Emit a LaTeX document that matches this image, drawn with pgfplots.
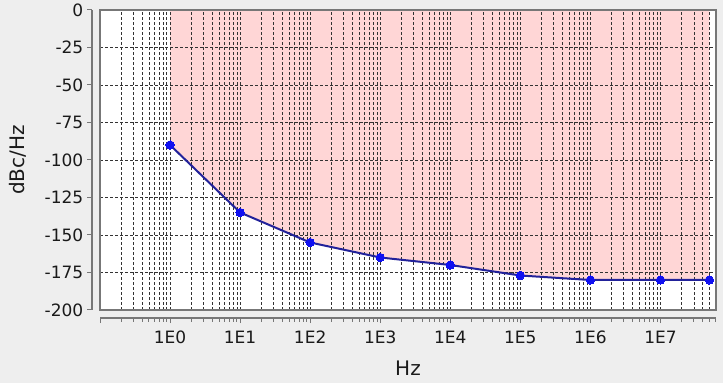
\documentclass[border=0pt]{standalone}
\usepackage{fontspec}
\setmainfont{DejaVu Sans}
\usepackage{pgfplots}
\pgfplotsset{compat=1.18}
\definecolor{bg}{HTML}{EEEEEE}
\definecolor{shade}{HTML}{FFD6D6}
\definecolor{framec}{HTML}{777777}
\definecolor{lineblue}{HTML}{22229A}
\definecolor{markblue}{HTML}{1010F0}
\definecolor{txt}{HTML}{1A1A1A}
\begin{document}
\begin{tikzpicture}
\fill[bg] (0pt,0pt) rectangle (723pt,383pt);
\useasboundingbox (0pt,0pt) rectangle (723pt,383pt);

% background + shaded region
\begin{axis}[at={(100pt,73pt)}, anchor=south west,
  scale only axis, width=616pt, height=300pt,
  xmode=log, log basis x=10, xmin=0.1, xmax=6.2e7,
  ymin=-200, ymax=0,
  axis background/.style={fill=white},
  axis line style={draw=none},
  xtick=\empty, ytick=\empty,
]
\addplot[fill=shade, draw=none] coordinates {
  (1,0) (1,-90) (10,-135) (100,-155) (1000,-165) (1e4,-170) (1e5,-177) (1e6,-180) (1e7,-180) (5e7,-180) (5e7,0) (1,0)
};
\end{axis}

% grid + data
\begin{axis}[at={(100pt,73pt)}, anchor=south west,
  scale only axis, width=616pt, height=300pt,
  xmode=log, log basis x=10, xmin=0.1, xmax=6.2e7,
  ymin=-200, ymax=0,
  xtick={0.1,1,10,100,1000,1e4,1e5,1e6,1e7},
  minor xtick={0.2,0.3,0.4,0.5,0.6,0.7,0.8,0.9,
    2,3,4,5,6,7,8,9,
    20,30,40,50,60,70,80,90,
    200,300,400,500,600,700,800,900,
    2e3,3e3,4e3,5e3,6e3,7e3,8e3,9e3,
    2e4,3e4,4e4,5e4,6e4,7e4,8e4,9e4,
    2e5,3e5,4e5,5e5,6e5,7e5,8e5,9e5,
    2e6,3e6,4e6,5e6,6e6,7e6,8e6,9e6,
    2e7,3e7,4e7,5e7,6e7},
  ytick={-200,-175,-150,-125,-100,-75,-50,-25,0},
  axis line style={framec, line width=1.2pt},
  grid=both,
  major grid style={black!80, line width=0.8pt, dash pattern=on 3pt off 2pt},
  minor grid style={black!80, line width=0.8pt, dash pattern=on 3pt off 2pt},
  major tick length=0pt, minor tick length=0pt,
  xticklabels={}, yticklabels={},
]
\addplot[lineblue, line width=2pt, mark=*, mark size=4.2pt,
  mark options={fill=markblue, draw=markblue, line width=0pt}] coordinates {
  (1,-90) (10,-135) (100,-155) (1000,-165) (1e4,-170) (1e5,-177) (1e6,-180) (1e7,-180) (5e7,-180)
};
\end{axis}

% offset x axis
\begin{axis}[at={(100pt,65pt)}, anchor=south west,
  scale only axis, width=616pt, height=300pt,
  xmode=log, log basis x=10, xmin=0.1, xmax=6.2e7,
  ymin=-200, ymax=0,
  xtick={0.1,1,10,100,1000,1e4,1e5,1e6,1e7},
  minor xtick={0.2,0.3,0.4,0.5,0.6,0.7,0.8,0.9,
    2,3,4,5,6,7,8,9,
    20,30,40,50,60,70,80,90,
    200,300,400,500,600,700,800,900,
    2e3,3e3,4e3,5e3,6e3,7e3,8e3,9e3,
    2e4,3e4,4e4,5e4,6e4,7e4,8e4,9e4,
    2e5,3e5,4e5,5e5,6e5,7e5,8e5,9e5,
    2e6,3e6,4e6,5e6,6e6,7e6,8e6,9e6,
    2e7,3e7,4e7,5e7,6e7},
  hide y axis, axis x line*=bottom,
  x axis line style={framec, line width=1.2pt, -},
  tick align=outside, major tick length=5pt, minor tick length=3.5pt,
  tick style={framec, line width=1pt},
  xticklabels={,1E0,1E1,1E2,1E3,1E4,1E5,1E6,1E7},
  xticklabel style={font=\fontsize{17}{19}\selectfont, txt, inner sep=2.5pt, yshift=-5pt},
  xlabel={Hz},
  xlabel style={font=\fontsize{20}{22}\selectfont, txt,
    at={([yshift=-57pt]axis description cs:0.5,0)}, anchor=base},
]
\end{axis}

% offset y axis
\begin{axis}[at={(92pt,73pt)}, anchor=south west,
  scale only axis, width=616pt, height=300pt,
  xmin=0, xmax=1,
  ymin=-200, ymax=0,
  ytick={-200,-175,-150,-125,-100,-75,-50,-25,0},
  hide x axis, axis y line*=left,
  y axis line style={framec, line width=1.2pt, -},
  tick align=outside, major tick length=5pt,
  tick style={framec, line width=1pt},
  yticklabel style={font=\fontsize{17}{19}\selectfont, txt, inner sep=3.5pt,
    /pgf/number format/assume math mode=true},
  ylabel={dBc/Hz},
  ylabel style={font=\fontsize{20}{22}\selectfont, txt,
    at={([xshift=-67pt]axis description cs:0,0.5)}, anchor=base},
]
\end{axis}
\end{tikzpicture}
\end{document}
